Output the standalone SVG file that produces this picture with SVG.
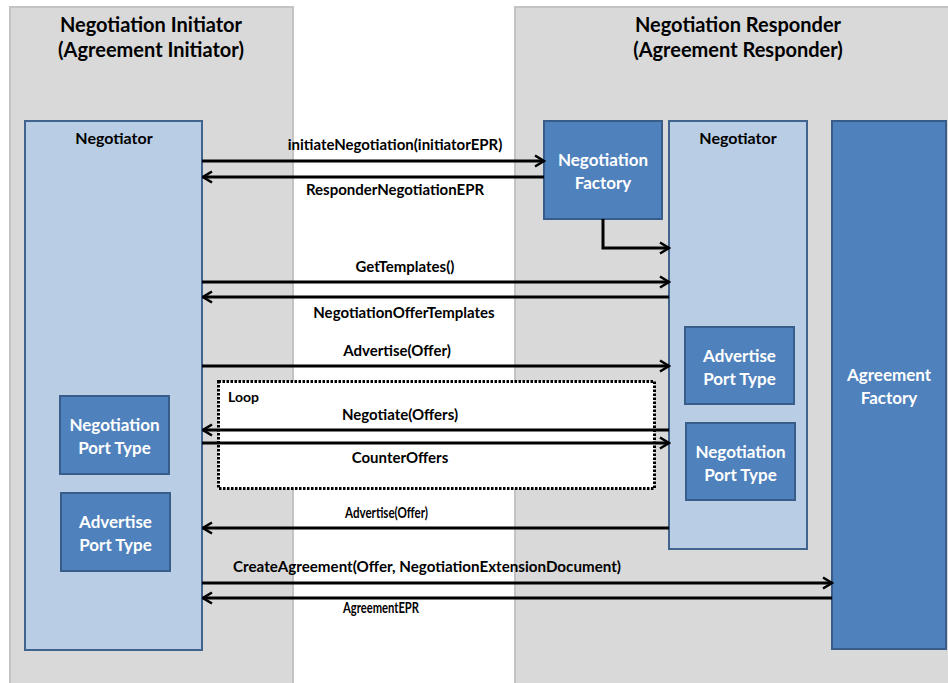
<svg xmlns="http://www.w3.org/2000/svg" width="948" height="683" viewBox="0 0 948 683">
<defs>
<marker id="arr" viewBox="0 0 12 14" refX="10.5" refY="7" markerWidth="12" markerHeight="14" markerUnits="userSpaceOnUse" orient="auto">
<path d="M1.5,1.5 L10.5,7 L1.5,12.5" fill="none" stroke="#000" stroke-width="2.6"/>
</marker>
</defs>
<style>
text{font-family:Lato,"Liberation Sans",sans-serif;font-weight:bold}
.panel{fill:#d9d9d9;stroke:#c3c3c3;stroke-width:2}
.title{font-size:20px;fill:#000;text-anchor:middle}
.light{fill:#b9cde5;stroke:#41648f;stroke-width:2}
.dark{fill:#4f81bd;stroke:#385d8a;stroke-width:2}
.wt{font-size:17px;fill:#fff;text-anchor:middle}
.bt{font-size:16px;fill:#000;text-anchor:middle}
.lbl{font-size:15px;fill:#000;text-anchor:middle}
.cl{font-size:15px;fill:#000;text-anchor:start}
.msg{fill:none;stroke:#000;stroke-width:3;marker-end:url(#arr)}
</style>
<rect width="948" height="683" fill="#fff"/>
<g id="initiator-panel">
<rect class="panel" x="10" y="7" width="283" height="690"/>
<text class="title" x="151" y="32">Negotiation Initiator</text>
<text class="title" x="151" y="57">(Agreement Initiator)</text>
</g>
<g id="responder-panel">
<rect class="panel" x="515" y="7" width="440" height="690"/>
<text class="title" x="738" y="32">Negotiation Responder</text>
<text class="title" x="738" y="57">(Agreement Responder)</text>
</g>
<g id="initiator-negotiator">
<rect class="light" x="25" y="121" width="177" height="529"/>
<text class="bt" x="114" y="144">Negotiator</text>
</g>
<g id="initiator-negotiation-port">
<rect class="dark" x="60" y="396" width="109" height="78"/>
<text class="wt" x="114.5" y="431">Negotiation</text>
<text class="wt" x="114.5" y="454">Port Type</text>
</g>
<g id="initiator-advertise-port">
<rect class="dark" x="61" y="493" width="109" height="78"/>
<text class="wt" x="115.5" y="528">Advertise</text>
<text class="wt" x="115.5" y="551">Port Type</text>
</g>
<g id="negotiation-factory">
<rect class="dark" x="544" y="121" width="118" height="98"/>
<text class="wt" x="603" y="166">Negotiation</text>
<text class="wt" x="603" y="189">Factory</text>
</g>
<g id="responder-negotiator">
<rect class="light" x="669" y="121" width="138" height="428"/>
<text class="bt" x="738" y="144">Negotiator</text>
</g>
<g id="responder-advertise-port">
<rect class="dark" x="685" y="327" width="109" height="77"/>
<text class="wt" x="739.5" y="362">Advertise</text>
<text class="wt" x="739.5" y="385">Port Type</text>
</g>
<g id="responder-negotiation-port">
<rect class="dark" x="686" y="423" width="109" height="77"/>
<text class="wt" x="740.5" y="458">Negotiation</text>
<text class="wt" x="740.5" y="481">Port Type</text>
</g>
<g id="agreement-factory">
<rect class="dark" x="832" y="121" width="114" height="528"/>
<text class="wt" x="889" y="381">Agreement</text>
<text class="wt" x="889" y="404">Factory</text>
</g>
<g id="loop">
<rect x="218.5" y="381.5" width="436" height="107" fill="#fff" stroke="#000" stroke-width="3" stroke-dasharray="2.5,1.5"/>
<text x="228" y="402" style="font-size:14px">Loop</text>
</g>
<g id="connectors">
<line class="msg" x1="202" y1="161" x2="544" y2="161"/>
<line class="msg" x1="544" y1="177" x2="203" y2="177"/>
<polyline class="msg" points="603,219 603,248 669,248"/>
<line class="msg" x1="202" y1="282" x2="669" y2="282"/>
<line class="msg" x1="669" y1="297" x2="203" y2="297"/>
<line class="msg" x1="202" y1="366" x2="669" y2="366"/>
<line class="msg" x1="669" y1="430" x2="203" y2="430"/>
<line class="msg" x1="202" y1="443" x2="669" y2="443"/>
<line class="msg" x1="669" y1="528" x2="203" y2="528"/>
<line class="msg" x1="202" y1="583" x2="832" y2="583"/>
<line class="msg" x1="832" y1="598" x2="203" y2="598"/>
<text class="lbl" x="395" y="150">initiateNegotiation(initiatorEPR)</text>
<text class="lbl" x="395" y="195">ResponderNegotiationEPR</text>
<text class="lbl" x="405" y="272">GetTemplates()</text>
<text class="lbl" x="404" y="318">NegotiationOfferTemplates</text>
<text class="lbl" x="397" y="356">Advertise(Offer)</text>
<text class="lbl" x="400" y="420">Negotiate(Offers)</text>
<text class="lbl" x="400" y="463">CounterOffers</text>
<text class="cl" x="345" y="518" textLength="83" lengthAdjust="spacingAndGlyphs">Advertise(Offer)</text>
<text class="cl" x="233" y="572" textLength="388" lengthAdjust="spacingAndGlyphs">CreateAgreement(Offer, NegotiationExtensionDocument)</text>
<text class="cl" x="343" y="613" textLength="76" lengthAdjust="spacingAndGlyphs">AgreementEPR</text>
</g>
</svg>
